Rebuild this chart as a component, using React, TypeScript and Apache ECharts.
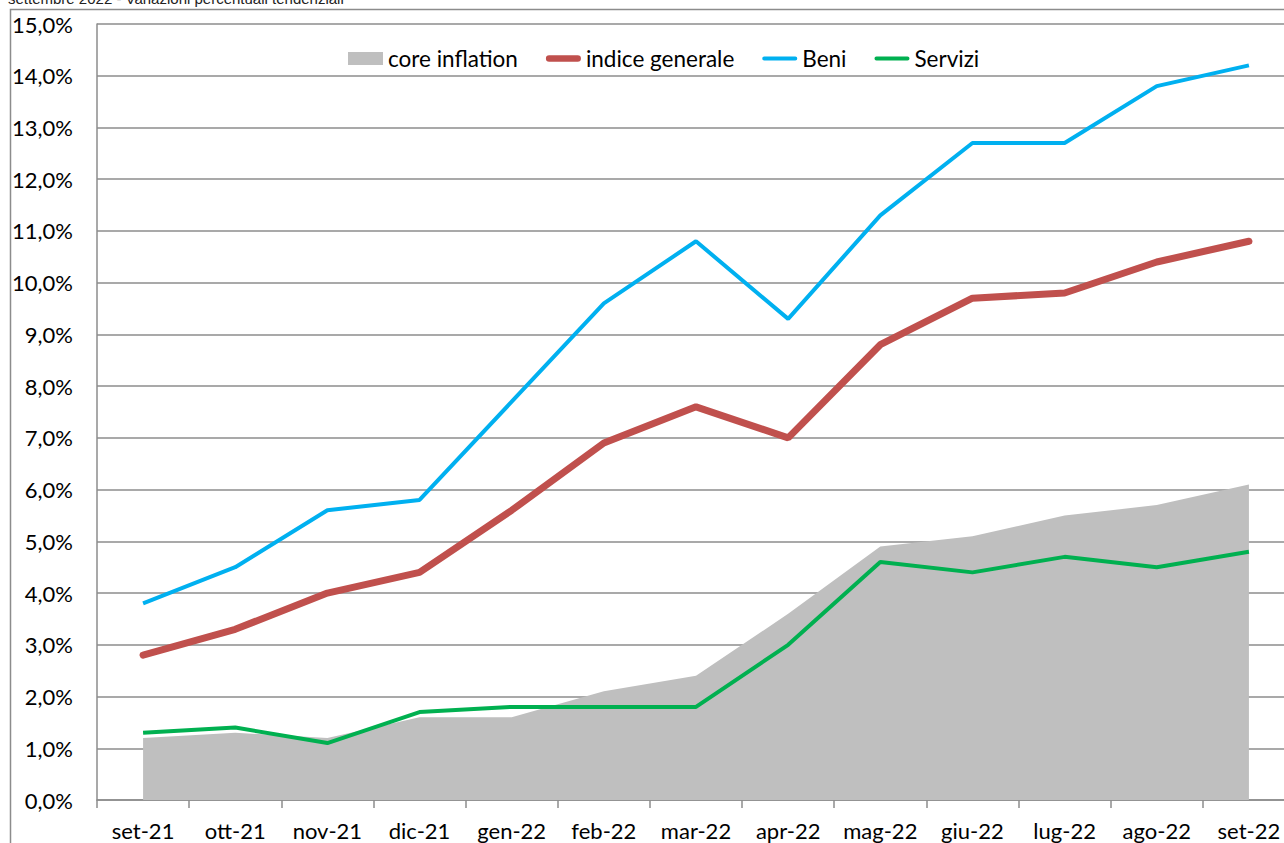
import React, { useEffect, useRef } from "react";
import * as echarts from "echarts";

const categories = ["set-21","ott-21","nov-21","dic-21","gen-22","feb-22","mar-22","apr-22","mag-22","giu-22","lug-22","ago-22","set-22"];
const coreInflation = [1.2, 1.3, 1.2, 1.6, 1.6, 2.1, 2.4, 3.6, 4.9, 5.1, 5.5, 5.7, 6.1];
const indiceGenerale = [2.8, 3.3, 4.0, 4.4, 5.6, 6.9, 7.6, 7.0, 8.8, 9.7, 9.8, 10.4, 10.8];
const beni = [3.8, 4.5, 5.6, 5.8, 7.7, 9.6, 10.8, 9.3, 11.3, 12.7, 12.7, 13.8, 14.2];
const servizi = [1.3, 1.4, 1.1, 1.7, 1.8, 1.8, 1.8, 3.0, 4.6, 4.4, 4.7, 4.5, 4.8];
const titleText = "settembre 2022 - Variazioni percentuali tendenziali";

const FONT = "Lato, 'Open Sans', sans-serif";
const GRID = "#8c8c8c";
const thickIcon = "path://M3.5,0 L34.5,0 A3.5,3.5 0 0 1 34.5,7 L3.5,7 A3.5,3.5 0 0 1 3.5,0 Z";
const thinIcon = "path://M2,0 L34,0 A2,2 0 0 1 34,4 L2,4 A2,2 0 0 1 2,0 Z";

export default function App() {
  const ref = useRef<HTMLDivElement>(null);
  useEffect(() => {
    if (!ref.current) return;
    const chart = echarts.init(ref.current, undefined, { renderer: "svg" });
    chart.setOption({
      animation: false,
      backgroundColor: "#ffffff",
      textStyle: { fontFamily: FONT },
      graphic: [
        {
          type: "text",
          left: 8,
          top: -9,
          style: { text: titleText, font: "15px 'Liberation Sans', Arial, sans-serif", fill: "#222" },
        },
        {
          type: "polyline",
          shape: { points: [[10.5, 900], [10.5, 9.5], [1320, 9.5]] },
          style: { stroke: "#8c8c8c", lineWidth: 1.5, fill: "none" },
          silent: true,
        },
      ],
      legend: {
        left: 348,
        top: 47,
        padding: 0,
        itemWidth: 35,
        itemHeight: 13,
        itemGap: 28,
        symbolKeepAspect: true,
        textStyle: { fontFamily: FONT, fontSize: 22.5, color: "#000" },
        data: [
          { name: "core inflation", icon: "rect", itemStyle: { color: "#bfbfbf" } },
          { name: "indice generale", icon: thickIcon, itemStyle: { color: "#c0504d" } },
          { name: "Beni", icon: thinIcon, itemStyle: { color: "#00b0f0" } },
          { name: "Servizi", icon: thinIcon, itemStyle: { color: "#00b050" } },
        ],
      },
      grid: { left: 97, top: 24, right: 5, bottom: 43, containLabel: false },
      xAxis: {
        type: "category",
        data: categories,
        boundaryGap: true,
        axisLine: { show: true, lineStyle: { color: GRID, width: 1.5 } },
        axisTick: { show: true, alignWithLabel: false, length: 8, lineStyle: { color: GRID, width: 1.5 } },
        axisLabel: { fontFamily: FONT, fontSize: 22, color: "#000", margin: 19, interval: 0 },
        splitLine: { show: false },
      },
      yAxis: {
        type: "value",
        min: 0,
        max: 15,
        interval: 1,
        axisLine: { show: true, lineStyle: { color: GRID, width: 1.5 } },
        axisTick: { show: false },
        axisLabel: {
          fontFamily: FONT,
          fontSize: 22,
          color: "#000",
          margin: 24,
          formatter: (v: number) => v.toFixed(1).replace(".", ",") + "%",
        },
        splitLine: { show: true, lineStyle: { color: GRID, width: 1.5 } },
      },
      series: [
        {
          name: "core inflation",
          type: "line",
          data: coreInflation,
          symbol: "none",
          lineStyle: { width: 0, color: "#bfbfbf" },
          itemStyle: { color: "#bfbfbf" },
          areaStyle: { color: "#bfbfbf", opacity: 1 },
          z: 1,
        },
        {
          name: "indice generale",
          type: "line",
          data: indiceGenerale,
          symbol: "none",
          lineStyle: { width: 7, color: "#c0504d", cap: "round" },
          itemStyle: { color: "#c0504d" },
          z: 3,
        },
        {
          name: "Beni",
          type: "line",
          data: beni,
          symbol: "none",
          lineStyle: { width: 4, color: "#00b0f0" },
          itemStyle: { color: "#00b0f0" },
          z: 4,
        },
        {
          name: "Servizi",
          type: "line",
          data: servizi,
          symbol: "none",
          lineStyle: { width: 4, color: "#00b050" },
          itemStyle: { color: "#00b050" },
          z: 5,
        },
      ],
    });
    return () => chart.dispose();
  }, []);
  return (
    <div style={{ position: "fixed", left: 0, top: 0, width: 1284, height: 843, overflow: "hidden", background: "#fff" }}>
      <div ref={ref} style={{ width: 1300, height: 843 }} />
    </div>
  );
}
